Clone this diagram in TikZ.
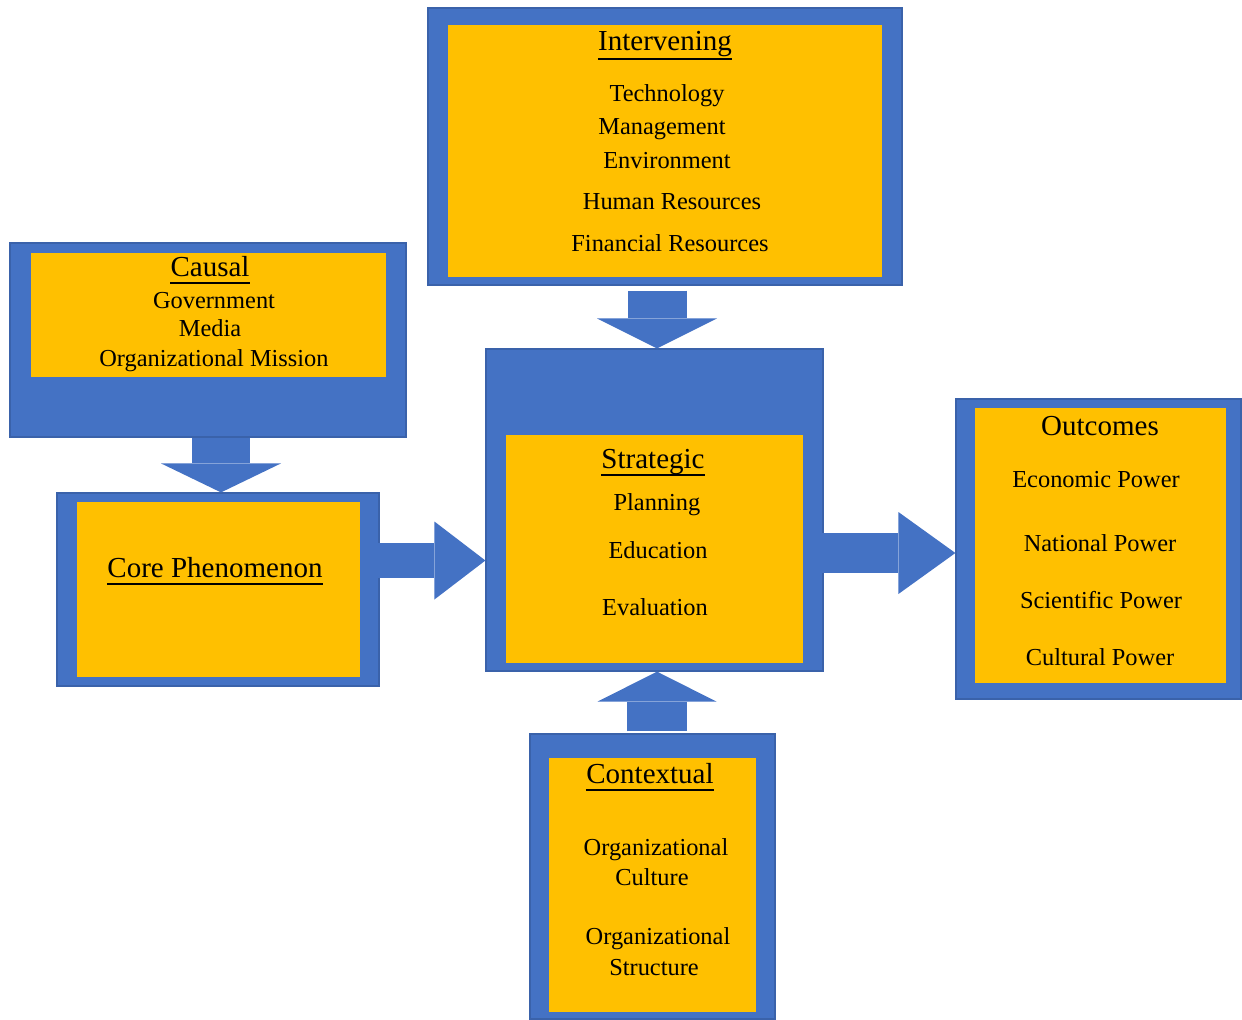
\documentclass[tikz,border=0pt]{standalone}
\usepackage{fontspec}
\setmainfont{Liberation Serif}
\usetikzlibrary{arrows.meta,fit,calc}
\definecolor{boxblue}{HTML}{4472C4}
\definecolor{edgeblue}{HTML}{3A62AA}
\definecolor{boxgold}{HTML}{FFC000}
\begin{document}
\begin{tikzpicture}[x=0.5pt,y=-0.5pt,
  outerbox/.style={fill=boxblue,draw=edgeblue,line width=0.6pt,inner sep=0pt},
  innerbox/.style={fill=boxgold,draw=none,inner sep=0pt},
  ttl/.style={anchor=base,inner sep=0pt,font=\fontsize{14.5pt}{17pt}\selectfont},
  itm/.style={anchor=base,inner sep=0pt,font=\fontsize{12.2pt}{14pt}\selectfont},
  uline/.style={line width=0.7pt},
  barrow/.style n args={3}{draw=boxblue,line width=#1,
    -{Triangle[width=#2,length=#3,line width=0pt,fill=boxblue]}}]
\useasboundingbox (0,0) rectangle (1242,1019);

% ---------- boxes ----------
\node[outerbox, fit={(428,8) (902,285)}] (interv) {};
\node[innerbox, fit={(448,25) (882,277)}] (intervin) {};

\node[outerbox, fit={(10,243) (406,437)}] (causal) {};
\node[innerbox, fit={(31,253) (386,377)}] (causalin) {};

\node[outerbox, fit={(57,493) (379,686)}] (core) {};
\node[innerbox, fit={(77,502) (360,677)}] (corein) {};

\node[outerbox, fit={(486,349) (823,671)}] (strat) {};
\node[innerbox, fit={(506,435) (803,663)}] (stratin) {};

\node[outerbox, fit={(956,399) (1241,699)}] (outc) {};
\node[innerbox, fit={(975,408) (1226,683)}] (outcin) {};

\node[outerbox, fit={(530,734) (775,1019)}] (context) {};
\node[innerbox, fit={(549,758) (756,1012)}] (contextin) {};

% ---------- block arrows ----------
\coordinate (a1) at ($(interv.south)+(-8,5)$);
\draw[barrow={29.5pt}{60pt}{15pt}] (a1) -- (a1 |- strat.north);

\coordinate (a2) at ($(causal.south)+(13,0)$);
\draw[barrow={29pt}{60pt}{14.5pt}] (a2) -- (a2 |- core.north);

\coordinate (a3) at ($(core.east)+(-11,-29)$);
\draw[barrow={17.5pt}{39pt}{25.5pt}] (a3) -- (a3 -| strat.west);

\coordinate (a4) at ($(strat.east)+(-4,43)$);
\draw[barrow={20pt}{41pt}{28.5pt}] (a4) -- (a4 -| outc.west);

\coordinate (a5) at ($(context.north)+(4.5,-2)$);
\draw[barrow={30pt}{59.5pt}{15pt}] (a5) -- (a5 |- strat.south);

% ---------- Intervening ----------
\node[ttl] (tint) at (665,50) {Intervening};
\draw[uline] ([yshift=-4.5pt]tint.base west) -- ([yshift=-4.5pt]tint.base east);
\node[itm] (i1) at (667,101) {Technology};
\node[itm] (i2) at (662,134) {Management};
\node[itm] (i3) at (667,168) {Environment};
\node[itm] (i4) at (672,209) {Human Resources};
\node[itm] (i5) at (670,251) {Financial Resources};

% ---------- Causal ----------
\node[ttl] (tcau) at (210,276) {Causal};
\draw[uline] ([yshift=-3.5pt]tcau.base west) -- ([yshift=-3.5pt]tcau.base east);
\node[itm] (c1) at (214,308) {Government};
\node[itm] (c2) at (210,336) {Media};
\node[itm] (c3) at (214,366) {Organizational Mission};

% ---------- Core ----------
\node[ttl] (tcore) at (215,577) {Core Phenomenon};
\draw[uline] ([yshift=-3.5pt]tcore.base west) -- ([yshift=-3.5pt]tcore.base east);

% ---------- Strategic ----------
\node[ttl] (tstr) at (653,468) {Strategic};
\draw[uline] ([yshift=-3.5pt]tstr.base west) -- ([yshift=-3.5pt]tstr.base east);
\node[itm] (s1) at (657,510) {Planning};
\node[itm] (s2) at (658,558) {Education};
\node[itm] (s3) at (655,615) {Evaluation};

% ---------- Outcomes ----------
\node[ttl] (tout) at (1100,435) {Outcomes};
\node[itm] (o1) at (1096,487) {Economic Power};
\node[itm] (o2) at (1100,551) {National Power};
\node[itm] (o3) at (1101,608) {Scientific Power};
\node[itm] (o4) at (1100,665) {Cultural Power};

% ---------- Contextual ----------
\node[ttl] (tcon) at (650,783) {Contextual};
\draw[uline] ([yshift=-3.5pt]tcon.base west) -- ([yshift=-3.5pt]tcon.base east);
\node[itm] (x1) at (656,855) {Organizational};
\node[itm] (x2) at (652,885) {Culture};
\node[itm] (x3) at (658,944) {Organizational};
\node[itm] (x4) at (654,975) {Structure};
\end{tikzpicture}
\end{document}
